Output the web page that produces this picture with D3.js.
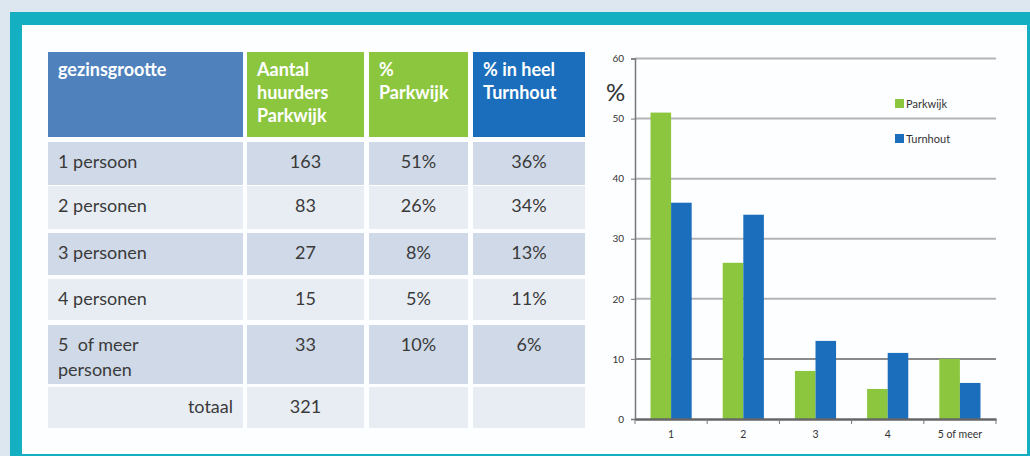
<!DOCTYPE html>
<html>
<head>
<meta charset="utf-8">
<style>
  body { margin: 0; background: #dde7ef; }
  svg { display: block; }
  text { font-family: Lato, "Open Sans", sans-serif; white-space: pre; }
</style>
</head>
<body>
<script src="https://d3js.org/d3.v7.min.js"></script>
<script>
// table data
var headers = [["gezinsgrootte"], ["Aantal", "huurders", "Parkwijk"], ["%", "Parkwijk"], ["% in heel", "Turnhout"]];
var rowLabels = [["1 persoon"], ["2 personen"], ["3 personen"], ["4 personen"], ["5  of meer", "personen"], ["totaal"]];
var counts = ["163", "83", "27", "15", "33", "321"];
var pctParkwijkText = ["51%", "26%", "8%", "5%", "10%", ""];
var pctTurnhoutText = ["36%", "34%", "13%", "11%", "6%", ""];

// chart data
var categories = ["1", "2", "3", "4", "5 of meer"];
var seriesNames = ["Parkwijk", "Turnhout"];
var parkwijk = [51, 26, 8, 5, 10];
var turnhout = [36, 34, 13, 11, 6];
var yTicks = [0, 10, 20, 30, 40, 50, 60];

var W = 1030, H = 456;
var svg = d3.select("body").append("svg").attr("width", W).attr("height", H);

// frame
svg.append("rect").attr("x", 10).attr("y", 12).attr("width", 1030).attr("height", 460).attr("fill", "#14b0c2");
svg.append("rect").attr("x", 22).attr("y", 25).attr("width", 1005).attr("height", 429).attr("fill", "#fdfeff");

// ---- table ----
var colX = [48, 247, 369, 473], colW = [195, 117, 99, 112];
var headFill = ["#4f81bd", "#8cc63f", "#8cc63f", "#1b6ebc"];
var rowY = [142, 186, 233, 279, 325, 387], rowH = [43, 43, 42, 41, 59, 41];
var rowFill = ["#cfd9e7", "#e8edf4"];

var table = svg.append("g");
var head = table.selectAll("g.head").data(headers).join("g").attr("class", "head");
head.append("rect")
  .attr("x", function (d, i) { return colX[i]; }).attr("y", 52)
  .attr("width", function (d, i) { return colW[i]; }).attr("height", 85)
  .attr("fill", function (d, i) { return headFill[i]; });
head.each(function (d, i) {
  d3.select(this).selectAll("text").data(d).join("text")
    .attr("x", colX[i] + 10).attr("y", function (l, j) { return 76 + j * 23; })
    .attr("fill", "#fff").attr("font-weight", "bold").attr("font-size", 18)
    .text(function (l) { return l; });
});

var rows = table.selectAll("g.row").data(rowLabels).join("g").attr("class", "row");
rows.each(function (d, r) {
  var g = d3.select(this);
  var cells = [d, [counts[r]], [pctParkwijkText[r]], [pctTurnhoutText[r]]];
  var last = r === rowLabels.length - 1;
  cells.forEach(function (lines, c) {
    g.append("rect").attr("x", colX[c]).attr("y", rowY[r])
      .attr("width", colW[c]).attr("height", rowH[r])
      .attr("fill", rowFill[r % 2]);
    var anchor = c === 0 ? (last ? "end" : "start") : "middle";
    var tx = c === 0 ? (last ? colX[0] + colW[0] - 10 : colX[0] + 10) : colX[c] + colW[c] / 2;
    g.selectAll(null).data(lines).join("text")
      .attr("x", tx).attr("y", function (l, j) { return rowY[r] + 26 + j * 25; })
      .attr("text-anchor", anchor).attr("fill", "#3a3a3a").attr("font-size", 18)
      .text(function (l) { return l; });
  });
});

// ---- chart ----
var x0 = d3.scaleBand().domain(categories).range([635, 996]).paddingInner(0.43).paddingOuter(0.215);
var x1 = d3.scaleBand().domain(seriesNames).range([0, x0.bandwidth()]);
var y = d3.scaleLinear().domain([0, 60]).range([419, 58.5]);
var color = d3.scaleOrdinal().domain(seriesNames).range(["#8cc63f", "#1b6ebc"]);

var chart = svg.append("g");
chart.selectAll("line.grid").data(yTicks.filter(function (t) { return t > 0; })).join("line")
  .attr("x1", 635).attr("x2", 996)
  .attr("y1", function (d) { return y(d); }).attr("y2", function (d) { return y(d); })
  .attr("stroke", function (d) { return d === 10 ? "#8a8a8a" : "#b4b4b4"; })
  .attr("stroke-width", 2);

var groups = chart.selectAll("g.grp").data(categories).join("g")
  .attr("transform", function (d) { return "translate(" + x0(d) + ",0)"; });
groups.selectAll("rect").data(function (d, i) {
  return [{ s: "Parkwijk", v: parkwijk[i] }, { s: "Turnhout", v: turnhout[i] }];
}).join("rect")
  .attr("x", function (d) { return x1(d.s); }).attr("width", x1.bandwidth())
  .attr("y", function (d) { return y(d.v); }).attr("height", function (d) { return y(0) - y(d.v); })
  .attr("fill", function (d) { return color(d.s); });

// y axis
var yAxis = chart.append("g").attr("transform", "translate(635,0)")
  .call(d3.axisLeft(y).tickValues(yTicks).tickSize(4).tickPadding(7));
yAxis.select(".domain").attr("stroke", "#777").attr("stroke-width", 1.5);
yAxis.selectAll(".tick line").attr("stroke", "#777");
yAxis.selectAll("text").attr("font-size", 10).attr("fill", "#333").attr("font-family", "Lato, sans-serif");

// x axis
var xAxis = chart.append("g").attr("transform", "translate(0,419)")
  .call(d3.axisBottom(x0).tickSize(0).tickPadding(12));
xAxis.select(".domain").attr("stroke", "#666").attr("stroke-width", 2.5);
xAxis.selectAll("text").attr("font-size", 10.5).attr("fill", "#333").attr("font-family", "Lato, sans-serif");
var step = x0.step();
chart.selectAll("line.xt").data(d3.range(categories.length + 1)).join("line")
  .attr("x1", function (i) { return 635 + i * step; }).attr("x2", function (i) { return 635 + i * step; })
  .attr("y1", 419).attr("y2", 424).attr("stroke", "#777");

// % label
chart.append("text").attr("x", 606).attr("y", 101).attr("font-size", 24).attr("fill", "#333").text("%");

// legend
var legend = chart.selectAll("g.leg").data(seriesNames).join("g")
  .attr("transform", function (d, i) { return "translate(895," + (99 + i * 35) + ")"; });
legend.append("rect").attr("width", 9).attr("height", 9).attr("fill", function (d) { return color(d); });
legend.append("text").attr("x", 11).attr("y", 8.5).attr("font-size", 11).attr("fill", "#333")
  .text(function (d) { return d; });
</script>
</body>
</html>
